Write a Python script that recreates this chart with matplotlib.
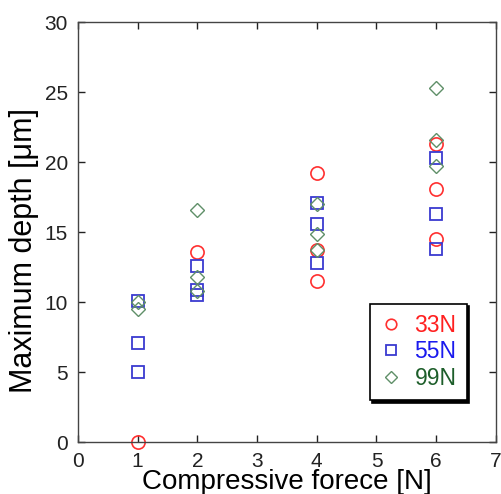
import numpy as np
import matplotlib
matplotlib.use("Agg")
import matplotlib.pyplot as plt

plt.rcParams['font.family'] = ['Liberation Sans', 'DejaVu Sans']

# Maximum depth measured at each compressive force, per clamping load
force_33 = [1, 2, 4, 4, 4, 6, 6, 6]
depth_33 = [0.0, 13.6, 19.2, 13.7, 11.5, 21.3, 18.1, 14.5]

force_55 = [1, 1, 1, 2, 2, 2, 4, 4, 4, 6, 6, 6]
depth_55 = [5.0, 7.1, 10.1, 12.6, 10.9, 10.5, 17.1, 15.6, 12.8, 20.3, 16.3, 13.8]

force_99 = [1, 1, 2, 2, 2, 4, 4, 4, 6, 6, 6]
depth_99 = [10.0, 9.5, 16.6, 11.8, 10.8, 17.0, 14.9, 13.7, 25.3, 21.6, 19.7]

labels = ['33N', '55N', '99N']

fig = plt.figure(figsize=(5.02, 4.94), dpi=100)
ax = fig.add_axes([0.155, 0.105, 0.833, 0.85])

ax.plot(force_33, depth_33, 'o', mfc='none', mec='#ff3030', mew=1.2, ms=9.5,
        label=labels[0], clip_on=False)
ax.plot(force_55, depth_55, 's', mfc='none', mec='#3a3ad0', mew=1.3, ms=9,
        label=labels[1], clip_on=False)
ax.plot(force_99, depth_99, 'D', mfc='none', mec='#5f8f68', mew=1.0, ms=7.5,
        label=labels[2], clip_on=False)

ax.set_xlim(0, 7)
ax.set_ylim(0, 30)
ax.set_xticks(range(0, 8))
ax.set_yticks(range(0, 31, 5))
ax.tick_params(direction='in', top=True, right=True, length=5, width=1,
               labelsize=15, pad=7, colors='#222222')
for s in ax.spines.values():
    s.set_color('#444444')
    s.set_linewidth(1)

ax.set_xlabel('Compressive forece [N]', fontsize=20, labelpad=-1)
ax.set_ylabel('Maximum depth [μm]', fontsize=22)
ax.yaxis.set_label_coords(-0.094, 0.457)

leg = ax.legend(loc='lower right', bbox_to_anchor=(0.93, 0.1),
                borderaxespad=0, fontsize=16.5, handletextpad=0.5,
                handlelength=1.0, labelspacing=0.15, fancybox=False,
                shadow={'color': 'black', 'alpha': 1},
                labelcolor=['#ff2020', '#1a1aee', '#1d5e2a'],
                borderpad=0.45, markerscale=0.8)
leg.get_frame().set_edgecolor('black')
leg.get_frame().set_linewidth(1.2)

fig.savefig('out.png', dpi=100)
